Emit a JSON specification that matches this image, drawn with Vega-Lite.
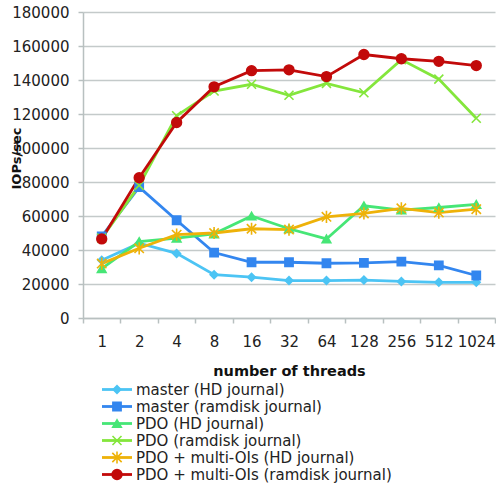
{
  "$schema": "https://vega.github.io/schema/vega-lite/v6.json",
  "padding": {"left": 10, "top": 5, "right": 0, "bottom": 0},
  "background": "white",
  "config": {
    "font": "DejaVu Sans",
    "view": {"stroke": null},
    "concat": {"spacing": 3}
  },
  "datasets": {
    "perf": [
      {"threads": "1", "series": "master (HD journal)", "iops": 34000},
      {"threads": "2", "series": "master (HD journal)", "iops": 44000},
      {"threads": "4", "series": "master (HD journal)", "iops": 38000},
      {"threads": "8", "series": "master (HD journal)", "iops": 25500},
      {"threads": "16", "series": "master (HD journal)", "iops": 24000},
      {"threads": "32", "series": "master (HD journal)", "iops": 22000},
      {"threads": "64", "series": "master (HD journal)", "iops": 22000},
      {"threads": "128", "series": "master (HD journal)", "iops": 22300},
      {"threads": "256", "series": "master (HD journal)", "iops": 21500},
      {"threads": "512", "series": "master (HD journal)", "iops": 21000},
      {"threads": "1024", "series": "master (HD journal)", "iops": 21000},
      {"threads": "1", "series": "master (ramdisk journal)", "iops": 48000},
      {"threads": "2", "series": "master (ramdisk journal)", "iops": 77000},
      {"threads": "4", "series": "master (ramdisk journal)", "iops": 57500},
      {"threads": "8", "series": "master (ramdisk journal)", "iops": 38500},
      {"threads": "16", "series": "master (ramdisk journal)", "iops": 32800},
      {"threads": "32", "series": "master (ramdisk journal)", "iops": 32800},
      {"threads": "64", "series": "master (ramdisk journal)", "iops": 32200},
      {"threads": "128", "series": "master (ramdisk journal)", "iops": 32400},
      {"threads": "256", "series": "master (ramdisk journal)", "iops": 33200},
      {"threads": "512", "series": "master (ramdisk journal)", "iops": 31000},
      {"threads": "1024", "series": "master (ramdisk journal)", "iops": 25000},
      {"threads": "1", "series": "PDO (HD journal)", "iops": 29000},
      {"threads": "2", "series": "PDO (HD journal)", "iops": 45000},
      {"threads": "4", "series": "PDO (HD journal)", "iops": 47000},
      {"threads": "8", "series": "PDO (HD journal)", "iops": 49500},
      {"threads": "16", "series": "PDO (HD journal)", "iops": 60000},
      {"threads": "32", "series": "PDO (HD journal)", "iops": 52500},
      {"threads": "64", "series": "PDO (HD journal)", "iops": 46500},
      {"threads": "128", "series": "PDO (HD journal)", "iops": 66000},
      {"threads": "256", "series": "PDO (HD journal)", "iops": 63500},
      {"threads": "512", "series": "PDO (HD journal)", "iops": 65000},
      {"threads": "1024", "series": "PDO (HD journal)", "iops": 66800},
      {"threads": "1", "series": "PDO (ramdisk journal)", "iops": 47000},
      {"threads": "2", "series": "PDO (ramdisk journal)", "iops": 78000},
      {"threads": "4", "series": "PDO (ramdisk journal)", "iops": 119000},
      {"threads": "8", "series": "PDO (ramdisk journal)", "iops": 133500},
      {"threads": "16", "series": "PDO (ramdisk journal)", "iops": 137500},
      {"threads": "32", "series": "PDO (ramdisk journal)", "iops": 131000},
      {"threads": "64", "series": "PDO (ramdisk journal)", "iops": 138000},
      {"threads": "128", "series": "PDO (ramdisk journal)", "iops": 132500},
      {"threads": "256", "series": "PDO (ramdisk journal)", "iops": 152000},
      {"threads": "512", "series": "PDO (ramdisk journal)", "iops": 140500},
      {"threads": "1024", "series": "PDO (ramdisk journal)", "iops": 117500},
      {"threads": "1", "series": "PDO + multi-OIs (HD journal)", "iops": 32000},
      {"threads": "2", "series": "PDO + multi-OIs (HD journal)", "iops": 41000},
      {"threads": "4", "series": "PDO + multi-OIs (HD journal)", "iops": 49000},
      {"threads": "8", "series": "PDO + multi-OIs (HD journal)", "iops": 50000},
      {"threads": "16", "series": "PDO + multi-OIs (HD journal)", "iops": 52500},
      {"threads": "32", "series": "PDO + multi-OIs (HD journal)", "iops": 52000},
      {"threads": "64", "series": "PDO + multi-OIs (HD journal)", "iops": 59500},
      {"threads": "128", "series": "PDO + multi-OIs (HD journal)", "iops": 61500},
      {"threads": "256", "series": "PDO + multi-OIs (HD journal)", "iops": 64500},
      {"threads": "512", "series": "PDO + multi-OIs (HD journal)", "iops": 62000},
      {"threads": "1024", "series": "PDO + multi-OIs (HD journal)", "iops": 64000},
      {"threads": "1", "series": "PDO + multi-OIs (ramdisk journal)", "iops": 46500},
      {"threads": "2", "series": "PDO + multi-OIs (ramdisk journal)", "iops": 82500},
      {"threads": "4", "series": "PDO + multi-OIs (ramdisk journal)", "iops": 115000},
      {"threads": "8", "series": "PDO + multi-OIs (ramdisk journal)", "iops": 136000},
      {"threads": "16", "series": "PDO + multi-OIs (ramdisk journal)", "iops": 145500},
      {"threads": "32", "series": "PDO + multi-OIs (ramdisk journal)", "iops": 146000},
      {"threads": "64", "series": "PDO + multi-OIs (ramdisk journal)", "iops": 142000},
      {"threads": "128", "series": "PDO + multi-OIs (ramdisk journal)", "iops": 155000},
      {"threads": "256", "series": "PDO + multi-OIs (ramdisk journal)", "iops": 152500},
      {"threads": "512", "series": "PDO + multi-OIs (ramdisk journal)", "iops": 151000},
      {"threads": "1024", "series": "PDO + multi-OIs (ramdisk journal)", "iops": 148500}
    ],
    "series": [
      {"series": "master (HD journal)"},
      {"series": "master (ramdisk journal)"},
      {"series": "PDO (HD journal)"},
      {"series": "PDO (ramdisk journal)"},
      {"series": "PDO + multi-OIs (HD journal)"},
      {"series": "PDO + multi-OIs (ramdisk journal)"}
    ]
  },
  "vconcat": [
    {
      "width": 412,
      "height": 306,
      "data": {"name": "perf"},
      "encoding": {
        "x": {
          "field": "threads", "type": "ordinal",
          "sort": ["1","2","4","8","16","32","64","128","256","512","1024"],
          "scale": {"type": "band", "paddingInner": 0, "paddingOuter": 0},
          "axis": {
            "title": "number of threads", "titleFontSize": 14.5, "titleFontWeight": "bold",
            "titleColor": "#111", "titleBaseline": "alphabetic", "titleY": 57,
            "labelFontSize": 15, "labelColor": "#222", "labelPadding": 11, "labelAngle": 0,
            "tickBand": "extent", "tickSize": 5, "tickColor": "#b8c0c0", "tickWidth": 1.5,
            "domainColor": "#b8c0c0", "domainWidth": 1.5, "grid": false
          }
        },
        "y": {
          "field": "iops", "type": "quantitative",
          "scale": {"domain": [0, 180000], "nice": false},
          "axis": {
            "title": "IOPs/sec", "titleFontSize": 13, "titleFontWeight": "bold", "titleColor": "#111",
            "titleX": -67, "titleY": 146, "titleAlign": "center", "titleBaseline": "middle",
            "values": [0,20000,40000,60000,80000,100000,120000,140000,160000,180000],
            "format": "d", "labelFontSize": 15, "labelColor": "#222", "labelPadding": 9,
            "tickSize": 5, "tickColor": "#b8c0c0", "tickWidth": 1.5,
            "domainColor": "#b8c0c0", "domainWidth": 1.5,
            "grid": true, "gridColor": "#c4caca", "gridWidth": 1.5
          }
        }
      },
      "layer": [
        {
          "mark": {"type": "line", "strokeWidth": 2.8},
          "encoding": {
            "color": {
              "field": "series", "type": "nominal", "legend": null,
              "scale": {
                "domain": ["master (HD journal)","master (ramdisk journal)","PDO (HD journal)","PDO (ramdisk journal)","PDO + multi-OIs (HD journal)","PDO + multi-OIs (ramdisk journal)"],
                "range": ["#4cc4f4","#3386ef","#46e676","#84e63c","#eeb209","#c20a0a"]
              }
            }
          }
        },
        {
          "mark": {"type": "point", "filled": true, "opacity": 1, "strokeWidth": 1.6, "size": 70},
          "encoding": {
            "fill": {
              "field": "series", "type": "nominal", "legend": null,
              "scale": {
                "domain": ["master (HD journal)","master (ramdisk journal)","PDO (HD journal)","PDO (ramdisk journal)","PDO + multi-OIs (HD journal)","PDO + multi-OIs (ramdisk journal)"],
                "range": ["#4cc4f4","#3386ef","#46e676","#84e63c","#eeb209","#c20a0a"]
              }
            },
            "stroke": {
              "field": "series", "type": "nominal", "legend": null,
              "scale": {
                "domain": ["master (HD journal)","master (ramdisk journal)","PDO (HD journal)","PDO (ramdisk journal)","PDO + multi-OIs (HD journal)","PDO + multi-OIs (ramdisk journal)"],
                "range": ["#4cc4f4","#3386ef","#46e676","#84e63c","#eeb209","#c20a0a"]
              }
            },
            "shape": {
              "field": "series", "type": "nominal", "legend": null,
              "scale": {
                "domain": ["master (HD journal)","master (ramdisk journal)","PDO (HD journal)","PDO (ramdisk journal)","PDO + multi-OIs (HD journal)","PDO + multi-OIs (ramdisk journal)"],
                "range": ["diamond","square","triangle-up","M-1,-1L1,1M-1,1L1,-1","M-1,-1L1,1M-1,1L1,-1M0,-1.3L0,1.3","circle"]
              }
            },
            "size": {
              "field": "series", "type": "nominal", "legend": null,
              "scale": {
                "domain": ["master (HD journal)","master (ramdisk journal)","PDO (HD journal)","PDO (ramdisk journal)","PDO + multi-OIs (HD journal)","PDO + multi-OIs (ramdisk journal)"],
                "range": [60, 95, 70, 60, 70, 95]
              }
            }
          }
        }
      ]
    },
    {
      "width": 412,
      "height": {"step": 17},
      "data": {"name": "series"},
      "encoding": {
        "y": {
          "field": "series", "type": "nominal", "axis": null,
          "sort": ["master (HD journal)","master (ramdisk journal)","PDO (HD journal)","PDO (ramdisk journal)","PDO + multi-OIs (HD journal)","PDO + multi-OIs (ramdisk journal)"]
        }
      },
      "layer": [
        {
          "mark": {"type": "rule", "strokeWidth": 2.8},
          "encoding": {
            "x": {"datum": 19, "type": "quantitative", "scale": {"domain": [0, 412], "nice": false}, "axis": null},
            "x2": {"datum": 49},
            "color": {
              "field": "series", "type": "nominal", "legend": null,
              "scale": {
                "domain": ["master (HD journal)","master (ramdisk journal)","PDO (HD journal)","PDO (ramdisk journal)","PDO + multi-OIs (HD journal)","PDO + multi-OIs (ramdisk journal)"],
                "range": ["#4cc4f4","#3386ef","#46e676","#84e63c","#eeb209","#c20a0a"]
              }
            }
          }
        },
        {
          "mark": {"type": "point", "filled": true, "opacity": 1, "strokeWidth": 1.6},
          "encoding": {
            "x": {"datum": 34, "type": "quantitative", "scale": {"domain": [0, 412], "nice": false}, "axis": null},
            "fill": {
              "field": "series", "type": "nominal", "legend": null,
              "scale": {
                "domain": ["master (HD journal)","master (ramdisk journal)","PDO (HD journal)","PDO (ramdisk journal)","PDO + multi-OIs (HD journal)","PDO + multi-OIs (ramdisk journal)"],
                "range": ["#4cc4f4","#3386ef","#46e676","#84e63c","#eeb209","#c20a0a"]
              }
            },
            "stroke": {
              "field": "series", "type": "nominal", "legend": null,
              "scale": {
                "domain": ["master (HD journal)","master (ramdisk journal)","PDO (HD journal)","PDO (ramdisk journal)","PDO + multi-OIs (HD journal)","PDO + multi-OIs (ramdisk journal)"],
                "range": ["#4cc4f4","#3386ef","#46e676","#84e63c","#eeb209","#c20a0a"]
              }
            },
            "shape": {
              "field": "series", "type": "nominal", "legend": null,
              "scale": {
                "domain": ["master (HD journal)","master (ramdisk journal)","PDO (HD journal)","PDO (ramdisk journal)","PDO + multi-OIs (HD journal)","PDO + multi-OIs (ramdisk journal)"],
                "range": ["diamond","square","triangle-up","M-1,-1L1,1M-1,1L1,-1","M-1,-1L1,1M-1,1L1,-1M0,-1.3L0,1.3","circle"]
              }
            },
            "size": {
              "field": "series", "type": "nominal", "legend": null,
              "scale": {
                "domain": ["master (HD journal)","master (ramdisk journal)","PDO (HD journal)","PDO (ramdisk journal)","PDO + multi-OIs (HD journal)","PDO + multi-OIs (ramdisk journal)"],
                "range": [50, 70, 60, 50, 60, 80]
              }
            }
          }
        },
        {
          "mark": {"type": "text", "align": "left", "baseline": "middle", "fontSize": 15, "color": "#222"},
          "encoding": {
            "x": {"datum": 53, "type": "quantitative", "scale": {"domain": [0, 412], "nice": false}, "axis": null},
            "text": {"field": "series"}
          }
        }
      ]
    }
  ]
}
